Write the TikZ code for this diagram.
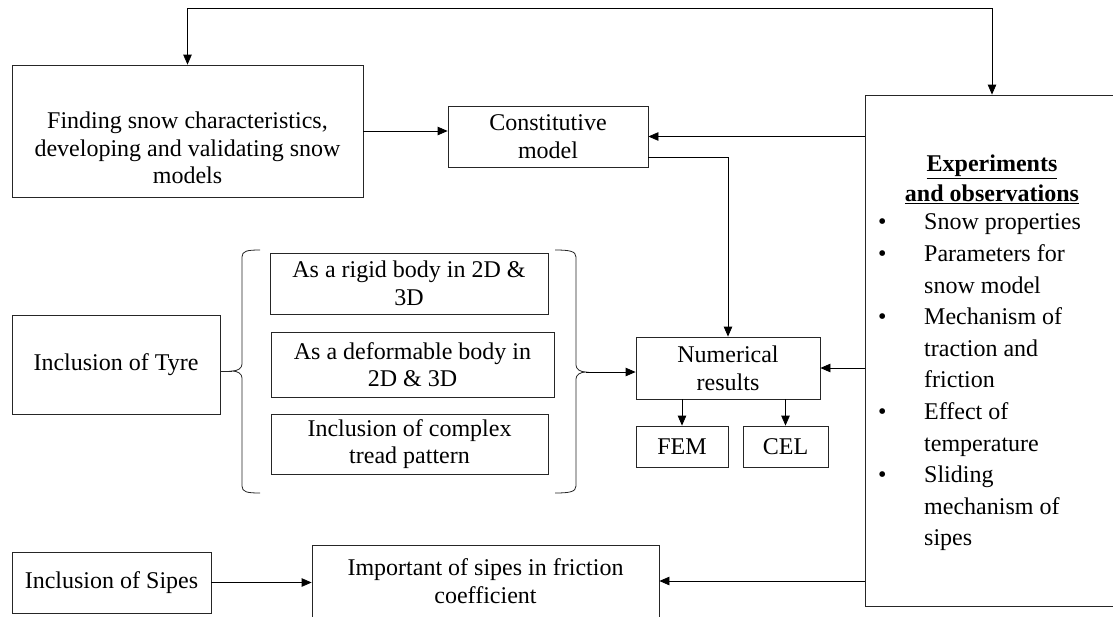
\documentclass[tikz,border=0pt]{standalone}
\usepackage{fontspec}
\setmainfont{Liberation Serif}
\usetikzlibrary{arrows.meta}
\newcommand\fs{\fontsize{24}{27.6}\selectfont}
\newcommand\fsl{\fontsize{24}{31.6}\selectfont}
\tikzset{
  box/.style={draw=black!85, line width=0.8pt, inner sep=0pt, align=center, font=\fs},
  txt/.style={inner sep=0pt, align=center, font=\fs},
  arr/.style={-{Triangle[length=10pt,width=8.5pt]}, line width=0.8pt},
  arrboth/.style={{Triangle[length=10pt,width=8.5pt]}-{Triangle[length=10pt,width=8.5pt]}, line width=0.8pt},
  bracestyle/.style={line width=0.8pt, draw=black!85}
}
\begin{document}
\begin{tikzpicture}[x=1pt,y=-1pt]
\useasboundingbox (0,0) rectangle (1113,616);
\clip (0,0) rectangle (1113,616);
% boxes
\node[box, minimum width=351pt, minimum height=132pt] (f) at (187.5,131) {};
\node[txt] (ft) at (187.5,148) {Finding snow characteristics,\\developing and validating snow\\models};
\node[box, minimum width=200pt, minimum height=61pt] (c) at (548,136.5) {Constitutive\\model};
\node[box, minimum width=254pt, minimum height=511pt] (exp) at (992,350.5) {};
\node[txt, font=\fs\bfseries] (t1) at (992,167) {\underline{Experiments}};
\node[txt, font=\fs\bfseries] (t2) at (992,194) {\underline{and observations}};
\node[inner sep=0pt, anchor=north west, font=\fsl] (items) at (878,207.5) {%
\begin{tabular}{@{}p{46pt}@{}l@{}}
\textbullet & Snow properties\\
\textbullet & Parameters for\\
 & snow model\\
\textbullet & Mechanism of\\
 & traction and\\
 & friction\\
\textbullet & Effect of\\
 & temperature\\
\textbullet & Sliding\\
 & mechanism of\\
 & sipes
\end{tabular}};
\node[box, minimum width=208pt, minimum height=99pt] (ty) at (116,364.5) {Inclusion of Tyre};
\node[box, minimum width=278pt, minimum height=61pt] (r1) at (409,283.5) {As a rigid body in 2D \&\\3D};
\node[box, minimum width=283pt, minimum height=65pt] (r2) at (412.5,364.5) {As a deformable body in\\2D \& 3D};
\node[box, minimum width=277pt, minimum height=60pt] (r3) at (409.5,444) {Inclusion of complex\\tread pattern};
\node[box, minimum width=184pt, minimum height=62pt] (num) at (728,368) {Numerical\\results};
\node[box, minimum width=92pt, minimum height=41pt] (fem) at (682,446.5) {FEM};
\node[box, minimum width=85pt, minimum height=41pt] (cel) at (785.5,446.5) {CEL};
\node[box, minimum width=199pt, minimum height=61pt] (sip) at (111.5,582.5) {Inclusion of Sipes};
\node[box, minimum width=347pt, minimum height=72pt] (imp) at (485.5,581) {Important of sipes in friction\\coefficient};
% braces
\coordinate (lb) at (232,371);
\coordinate (rb) at (586,372);
\draw[bracestyle] (260,250) .. controls (247,250) and (242,251) .. (242,257) -- (242,364) .. controls (242,368) and (238,371) .. (lb) .. controls (238,371) and (242,374) .. (242,378) -- (242,486) .. controls (242,492) and (247,493) .. (260,493);
\draw[bracestyle] (555,250) .. controls (569,250) and (576,251) .. (576,257) -- (576,365) .. controls (576,369) and (580,372) .. (rb) .. controls (580,372) and (576,375) .. (576,379) -- (576,486) .. controls (576,492) and (569,493) .. (555,493);
\draw[bracestyle] (ty.east |- lb) -- (lb);
% connectors
\coordinate (tl) at (187.5,8);
\draw[arrboth] (f.north) -- (tl) -| (exp.north);
\draw[arr] (f.east) -- (f.east -| c.west);
\draw[arr] (exp.west |- c.east) -- (c.east);
\draw[arr] ([yshift=-20.5pt]c.east) -| (num.north);
\draw[arr] (exp.west |- num.east) -- (num.east);
\draw[arr] (num.south -| fem.north) -- (fem.north);
\draw[arr] (num.south -| cel.north) -- (cel.north);
\draw[arr] (rb) -- (rb -| num.west);
\draw[arr] (exp.west |- imp.east) -- (imp.east);
\draw[arr] (sip.east) -- (sip.east -| imp.west);
\end{tikzpicture}
\end{document}
